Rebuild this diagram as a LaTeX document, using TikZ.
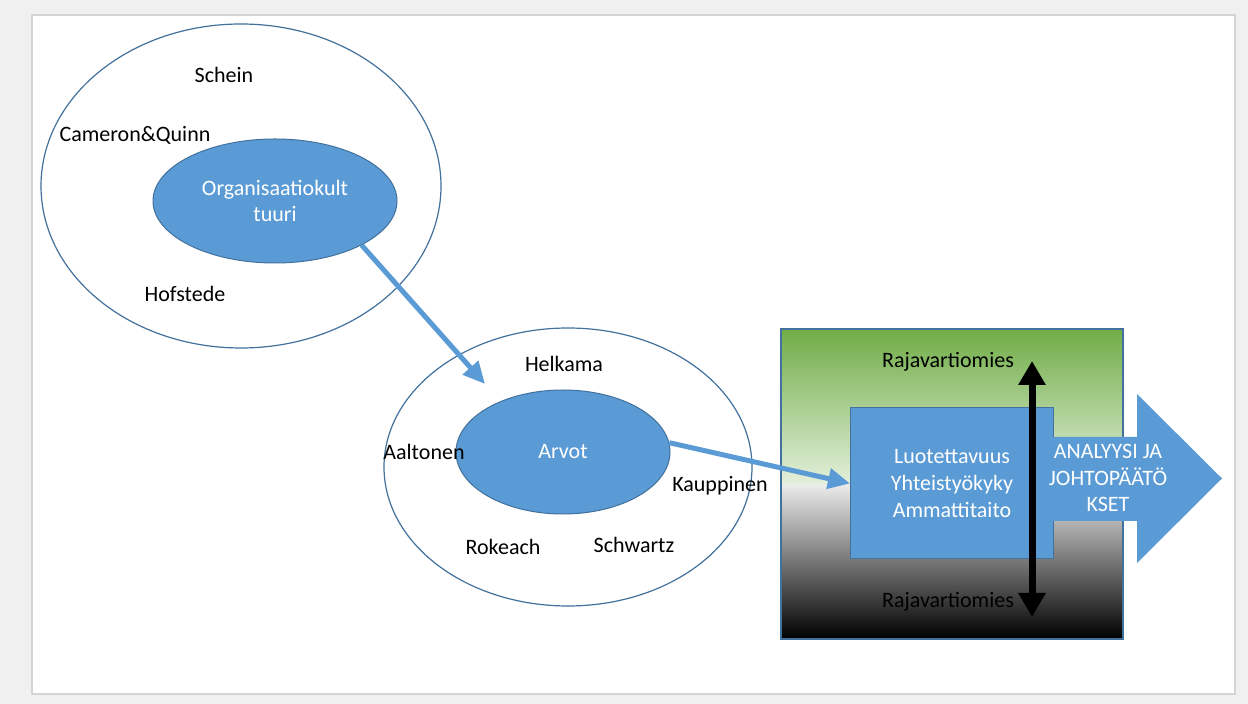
\documentclass[tikz,border=0pt]{standalone}
\usepackage{fontspec}
\setmainfont{Carlito}
\usepackage{tikz}
\usetikzlibrary{shapes.geometric,arrows.meta,calc}
\definecolor{bluefill}{HTML}{5B9BD5}
\definecolor{blueline}{HTML}{41719C}
\definecolor{grassgreen}{HTML}{70AD47}
\definecolor{palegreen}{HTML}{E4F0DC}
\definecolor{pagegray}{HTML}{F0F0F0}
\definecolor{framegray}{HTML}{D4D4D4}
\tikzstyle{line} = [color=bluefill, line width=2.5pt, -{Triangle[length=11pt,width=10pt]}]
\tikzstyle{bothway} = [color=black, line width=3.5pt, {Triangle[length=12pt,width=13pt]}-{Triangle[length=12pt,width=13pt]}]
\tikzstyle{ring} = [draw=blueline, line width=0.6pt, ellipse, inner sep=0pt]
\tikzstyle{blob} = [draw=blueline, fill=bluefill, line width=0.5pt, ellipse, inner sep=0pt, text=white, align=center]
\tikzstyle{author} = [inner sep=0pt, text=black]

\begin{document}
\begin{tikzpicture} [x=0.5pt, y=-0.5pt, font=\fontsize{11}{13.4}\selectfont]

        \useasboundingbox (0,0) rectangle (1248,704);
        \fill[pagegray] (0,0) rectangle (1248,704);
        \draw[framegray, fill=white, line width=0.6pt] (32,15) rectangle (1235,694);

        % culture circle
        \node[ring, minimum width=200pt, minimum height=162pt] (kult) at (241,186) {};
        \node[blob, minimum width=122pt, minimum height=62pt] (org) at (275,201) {Organisaatiokult\\tuuri};
        \node[author] (schein) at (224,75) {Schein};
        \node[author] (cq) at (135,135) {Cameron\&Quinn};
        \node[author] (hof) at (185,294) {Hofstede};

        % values circle
        \node[ring, minimum width=184pt, minimum height=139pt] (arv) at (568,467) {};
        \node[blob, minimum width=107pt, minimum height=62pt] (arvot) at (563,452) {Arvot};
        \node[author] (helk) at (564,364) {Helkama};
        \node[author] (aalt) at (424,452) {Aaltonen};
        \node[author] (kaup) at (720,486) {Kauppinen};
        \node[author] (rok) at (503,547) {Rokeach};
        \node[author] (schw) at (634,545) {Schwartz};

        % border guard box
        \shade[top color=grassgreen, bottom color=palegreen] (781,329) rectangle (1123,485);
        \shade[top color=black!8, middle color=black!72, bottom color=black] (781,485) rectangle (1123,639);
        \draw[blueline, line width=0.6pt] (781,329) rectangle (1123,639);
        \node[draw=blueline, fill=bluefill, line width=0.5pt, text=white, align=center, minimum width=101.5pt, minimum height=75.5pt] (taidot) at (952,483.5) {Luotettavuus\\Yhteistyökyky\\Ammattitaito};
        \node[author] (rajaylos) at (948,362) {Rajavartiomies};
        \node[author] (rajaalas) at (948,602) {Rajavartiomies};
        \coordinate (ylos) at (1032,361);
        \coordinate (alas) at (1032,617);
        \draw [bothway] (ylos) -- (alas);

        % result arrow
        \fill[bluefill] (1039,437) -- (1137,437) -- (1137,394) -- (1222,478.5) -- (1137,563) -- (1137,521) -- (1039,521) -- cycle;
        \node[text=white, align=center, inner sep=0pt] (tulos) at (1108,478) {ANALYYSI JA\\JOHTOPÄÄTÖ\\KSET};

        \coordinate (arvoihin) at (485,384);
        \draw [line] (org.-27) -- (arvoihin);
        \draw [line] (arvot.5) -- (taidot.west);

\end{tikzpicture}
\end{document}
